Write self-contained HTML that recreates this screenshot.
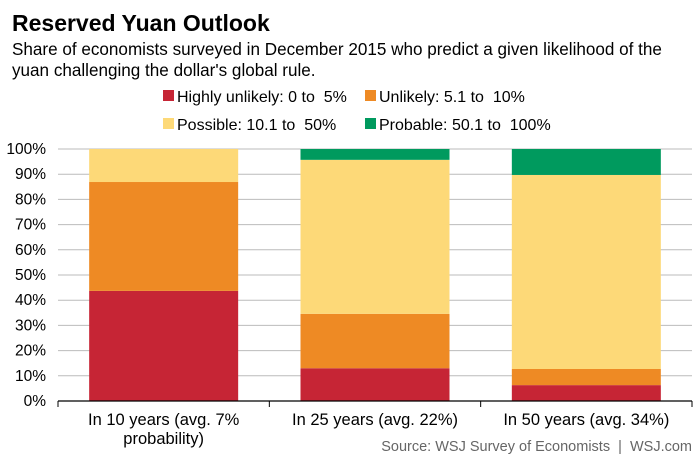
<!DOCTYPE html>
<html><head><meta charset="utf-8"><style>
body{margin:0;background:#fff;width:700px;height:466px;overflow:hidden;font-family:"Liberation Sans",Arial,sans-serif}
text{white-space:pre}
</style></head><body>
<svg width="700" height="466" font-family="Liberation Sans, Arial, sans-serif" xml:space="preserve">
<text x="12" y="31" font-size="23" font-weight="bold" fill="#000">Reserved Yuan Outlook</text>
<text x="12" y="55" font-size="17.1" fill="#000">Share of economists surveyed in December 2015 who predict a given likelihood of the</text>
<text x="12" y="76" font-size="17.1" fill="#000">yuan challenging the dollar's global rule.</text>
<g id="legend"></g>
<g id="grid"></g><g id="bars"></g><g id="axes"></g>
<text x="692" y="451" font-size="14.5" fill="#666" text-anchor="end">Source: WSJ Survey of Economists  |  WSJ.com</text>
</svg>
<script>
const categories=[["In 10 years (avg. 7%","probability)"],["In 25 years (avg. 22%)"],["In 50 years (avg. 34%)"]];
const seriesNames=["Highly unlikely: 0 to  5%","Unlikely: 5.1 to  10%","Possible: 10.1 to  50%","Probable: 50.1 to  100%"];
const highlyUnlikely=[43.7,13.0,6.3];
const unlikely=[43.2,21.6,6.4];
const possible=[13.1,61.1,77.0];
const probable=[0,4.3,10.3];
const yTicks=[0,10,20,30,40,50,60,70,80,90,100];
const colors=["#c62535","#ee8a24","#fdd978","#009a5e"];
const NS="http://www.w3.org/2000/svg";
const x0=58,x1=692,yTop=149,yBot=401;
const y=v=>yBot-(v/100)*(yBot-yTop);
const band=(x1-x0)/categories.length;
const bw=149;
const xc=i=>x0+band*(i+0.5);
function mk(t,a,p){const e=document.createElementNS(NS,t);for(const k in a)e.setAttribute(k,a[k]);p.appendChild(e);return e;}
const grid=document.getElementById('grid'),bars=document.getElementById('bars'),axes=document.getElementById('axes'),leg=document.getElementById('legend');
yTicks.forEach(t=>{
  const l=mk('line',{x1:x0,x2:x1,y1:y(t),y2:y(t),stroke:t===0?'#000':'#bbb','stroke-width':t===0?1.2:1},t===0?axes:grid);
  
  
  const tx=mk('text',{x:46,y:y(t)+5,'font-size':15.5,'text-anchor':'end',fill:'#000'},axes);tx.textContent=t+'%';
  
  
});
const series=[highlyUnlikely,unlikely,possible,probable];
categories.forEach((c,i)=>{
  let acc=0;
  series.forEach((s,j)=>{
    const v=s[i];
    const r=mk('rect',{x:xc(i)-bw/2,y:y(acc+v),width:bw,height:y(acc)-y(acc+v),fill:colors[j]},bars);
    
    
    acc+=v;
  });
  const tk=mk('line',{x1:x0+band*i,x2:x0+band*i,y1:yBot,y2:yBot+6,stroke:'#000'},axes);
  
  
  c.forEach((ln,k)=>{
    const t=mk('text',{x:xc(i),y:yBot+24+k*19,'font-size':16.5,'text-anchor':'middle',fill:'#000'},axes);t.textContent=ln;
    
    
  });
});
const tkEnd=mk('line',{x1:x1,x2:x1,y1:yBot,y2:yBot+6,stroke:'#000'},axes);


const legPos=[[163,102],[365,102],[163,130],[365,130]];
seriesNames.forEach((n,j)=>{
  const g=mk('g',{},leg);
  
  
  mk('rect',{x:legPos[j][0],y:legPos[j][1]-12,width:11,height:11,fill:colors[j]},g);
  const t=mk('text',{x:legPos[j][0]+14,y:legPos[j][1],'font-size':16,fill:'#000'},g);t.textContent=n;
});
</script>
</body></html>
